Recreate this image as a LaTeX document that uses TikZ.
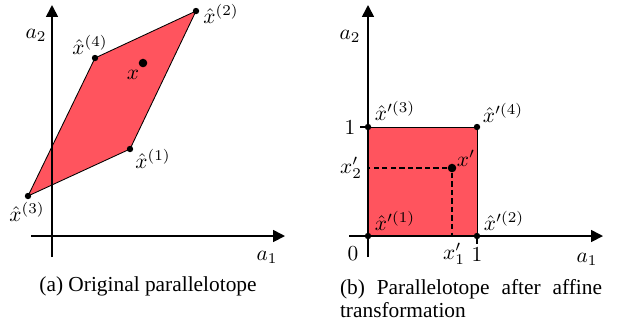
\documentclass[tikz,border=0pt]{standalone}
\usepackage{fontspec}
\setmainfont{Liberation Serif}
\usepackage{amsmath}
\usetikzlibrary{arrows.meta}
\definecolor{boxred}{RGB}{255,84,94}

\begin{document}
\begin{tikzpicture}[x=0.468pt,y=-0.468pt]
% Define styles
\tikzstyle{axis}=[thick,-{Triangle[length=5.6pt,width=5.6pt]}]
\tikzstyle{vertex}=[circle,fill=black,inner sep=0pt,minimum size=3pt]
\tikzstyle{point}=[circle,fill=black,inner sep=0pt,minimum size=4pt]
\tikzstyle{guide}=[semithick,dash pattern=on 2.5pt off 1.5pt]
\tikzstyle{lbl}=[inner sep=0.5pt]
\tikzstyle{caption}=[font=\fontsize{10}{11}\selectfont,inner sep=0pt]

\useasboundingbox (0,0) rectangle (618,324);

% (a) Original parallelotope
\coordinate (ax1s) at (31,236);
\coordinate (ax1e) at (285,236);
\coordinate (ax2s) at (52,257);
\coordinate (ax2e) at (52,5);
\coordinate (p1) at (130,149);
\coordinate (p2) at (196,11);
\coordinate (p3) at (28,196);
\coordinate (p4) at (95,58);

\filldraw[fill=boxred] (p3) -- (p1) -- (p2) -- (p4) -- cycle;
\draw[axis] (ax1s) -- (ax1e);
\draw[axis] (ax2s) -- (ax2e);

\node[vertex] (v1) at (p1) {};
\node[vertex] (v2) at (p2) {};
\node[vertex] (v3) at (p3) {};
\node[vertex] (v4) at (p4) {};
\node[point] (xa) at (143,63) {};

\node[lbl] (la1) at (267,257) {$a_1$};
\node[lbl] (la2) at (36,35) {$a_2$};
\node[lbl] (lv1) at (153,159) {$\hat{x}^{(1)}$};
\node[lbl] (lv2) at (221,14) {$\hat{x}^{(2)}$};
\node[lbl] (lv3) at (27,212) {$\hat{x}^{(3)}$};
\node[lbl] (lv4) at (90,45) {$\hat{x}^{(4)}$};
\node[lbl] (lxa) at (133,75) {$x$};

\node[caption] (capa) at (148,286) {(a) Original parallelotope};

% (b) After affine transformation
\coordinate (bx1s) at (349,236);
\coordinate (bx1e) at (603,236);
\coordinate (bx2s) at (368,257);
\coordinate (bx2e) at (368,5);
\coordinate (q1) at (368,236);
\coordinate (q2) at (477,236);
\coordinate (q3) at (368,127);
\coordinate (q4) at (477,127);
\coordinate (t1) at (360,127);
\coordinate (t2) at (477,244);
\coordinate (d1) at (368,168);
\coordinate (d2) at (452,236);

\filldraw[fill=boxred] (q1) -- (q2) -- (q4) -- (q3) -- cycle;
\node[point] (xb) at (452,168) {};
\draw[guide] (xb) -- (d1);
\draw[guide] (xb) -- (d2);
\draw[axis] (bx1s) -- (bx1e);
\draw[axis] (bx2s) -- (bx2e);
\draw[thick] (t1) -- (q3);
\draw[thick] (q2) -- (t2);

\node[vertex] (w1) at (q1) {};
\node[vertex] (w2) at (q2) {};
\node[vertex] (w3) at (q3) {};
\node[vertex] (w4) at (q4) {};

\node[lbl] (lb1) at (587,259) {$a_1$};
\node[lbl] (lb2) at (350,36) {$a_2$};
\node[lbl] (lw1) at (395,221) {$\hat{x}'^{(1)}$};
\node[lbl] (lw2) at (504,221) {$\hat{x}'^{(2)}$};
\node[lbl] (lw3) at (395,111) {$\hat{x}'^{(3)}$};
\node[lbl] (lw4) at (503,113) {$\hat{x}'^{(4)}$};
\node[lbl] (lxb) at (466,158) {$x'$};
\node[lbl] (lone2) at (350,128) {$1$};
\node[lbl] (lone1) at (477,255) {$1$};
\node[lbl] (lzero) at (353,254) {$0$};
\node[lbl] (lx1) at (454,254) {$x'_1$};
\node[lbl] (lx2) at (351,168) {$x'_2$};

\node[caption,text width=122.6pt,align=justify,anchor=north] (capb) at (471,279)
  {(b) Parallelotope after affine transformation};
\end{tikzpicture}
\end{document}
